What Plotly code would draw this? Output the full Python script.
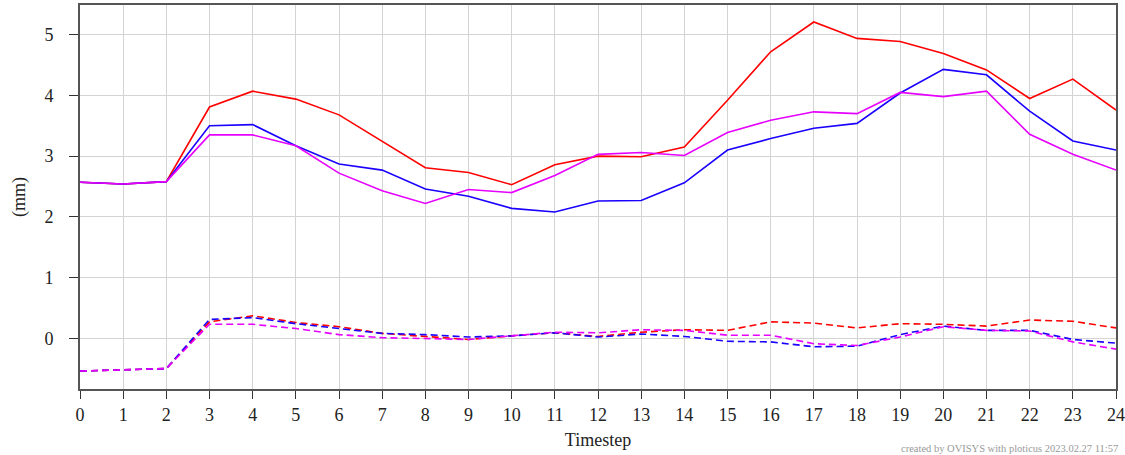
import plotly.graph_objects as go

timesteps = list(range(25))

red_solid = [2.57, 2.54, 2.58, 3.81, 4.07, 3.94, 3.68, 3.24, 2.81, 2.73, 2.53, 2.86, 3.00, 2.99, 3.15,
             3.92, 4.72, 5.21, 4.94, 4.89, 4.69, 4.42, 3.95, 4.27, 3.76]
blue_solid = [2.57, 2.54, 2.58, 3.50, 3.52, 3.17, 2.87, 2.77, 2.46, 2.34, 2.14, 2.08, 2.26, 2.27, 2.56,
              3.10, 3.29, 3.46, 3.54, 4.04, 4.43, 4.34, 3.74, 3.25, 3.10]
magenta_solid = [2.57, 2.54, 2.58, 3.35, 3.35, 3.17, 2.72, 2.43, 2.22, 2.45, 2.40, 2.68, 3.03, 3.06, 3.01,
                 3.39, 3.59, 3.73, 3.70, 4.05, 3.98, 4.07, 3.36, 3.03, 2.77]

red_dashed = [-0.54, -0.52, -0.50, 0.27, 0.37, 0.26, 0.19, 0.08, 0.03, -0.02, 0.04, 0.09, 0.03, 0.10, 0.14,
              0.13, 0.27, 0.25, 0.17, 0.24, 0.23, 0.20, 0.30, 0.28, 0.17]
blue_dashed = [-0.54, -0.52, -0.50, 0.31, 0.34, 0.24, 0.16, 0.08, 0.06, 0.02, 0.04, 0.09, 0.02, 0.07, 0.03,
               -0.05, -0.06, -0.14, -0.13, 0.06, 0.20, 0.13, 0.13, -0.02, -0.08]
magenta_dashed = [-0.54, -0.52, -0.50, 0.23, 0.23, 0.16, 0.06, 0.01, 0.00, -0.02, 0.04, 0.10, 0.09, 0.14, 0.13,
                  0.05, 0.05, -0.09, -0.12, 0.02, 0.19, 0.13, 0.12, -0.06, -0.18]

x_ticks = list(range(25))
y_ticks = [0, 1, 2, 3, 4, 5]

RED = "#ff0000"
BLUE = "#1a00ff"
MAGENTA = "#e600ff"

fig = go.Figure()
for ys, col in [(red_solid, RED), (blue_solid, BLUE), (magenta_solid, MAGENTA)]:
    fig.add_trace(go.Scatter(x=timesteps, y=ys, mode="lines",
                             line=dict(color=col, width=1.6), showlegend=False))
for ys, col in [(red_dashed, RED), (blue_dashed, BLUE), (magenta_dashed, MAGENTA)]:
    fig.add_trace(go.Scatter(x=timesteps, y=ys, mode="lines",
                             line=dict(color=col, width=1.6, dash="7px,4px"), showlegend=False))

SERIF = "Liberation Serif"
tick_font = dict(family=SERIF, size=18, color="#222222")
title_font = dict(family=SERIF, size=18, color="#222222")

fig.update_layout(
    width=1125, height=455,
    margin=dict(l=80, r=9, t=5, b=66),
    paper_bgcolor="white", plot_bgcolor="white",
    font=dict(family=SERIF, size=18, color="#222222"),
    xaxis=dict(range=[0, 24], tickvals=x_ticks, ticktext=[str(t) for t in x_ticks],
               showgrid=True, gridcolor="#d3d3d3", gridwidth=1,
               showline=True, linecolor="#555555", linewidth=2, mirror=True,
               ticks="outside", ticklen=8, tickcolor="#333333", tickwidth=1,
               zeroline=False, tickfont=tick_font, automargin=False,
               title=dict(text="Timestep", font=title_font, standoff=10)),
    yaxis=dict(range=[-0.836, 5.49], tickvals=y_ticks, ticktext=[str(t) for t in y_ticks],
               showgrid=True, gridcolor="#d3d3d3", gridwidth=1,
               showline=True, linecolor="#555555", linewidth=2, mirror=True,
               ticks="outside", ticklen=9, tickcolor="#333333", tickwidth=1,
               ticklabelstandoff=12,
               zeroline=False, tickfont=tick_font, automargin=False,
               title=dict(text="(mm)", font=title_font, standoff=14)),
)

fig.add_annotation(text="created by OVISYS with ploticus 2023.02.27 11:57",
                   xref="paper", yref="paper", x=1.0, y=0, xanchor="right", yanchor="top",
                   yshift=-52, xshift=4, showarrow=False,
                   font=dict(family=SERIF, size=10.5, color="#999999"))

fig.write_html("out.html", config={"displayModeBar": False},
               post_script="document.body.style.margin='0';document.body.style.overflow='hidden';")
